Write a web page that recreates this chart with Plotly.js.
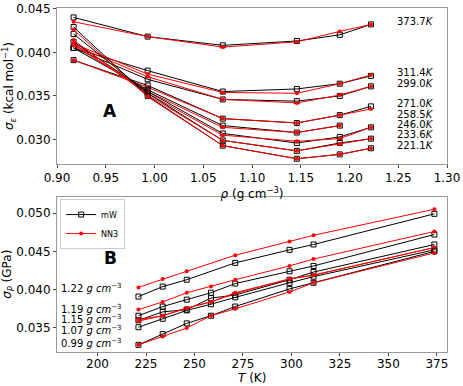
<!DOCTYPE html>
<html>
<head>
<meta charset="utf-8">
<script src="https://cdn.plot.ly/plotly-3.0.1.min.js"></script>
<style>
  html, body { margin: 0; padding: 0; background: #fff; }
  #chart { width: 463px; height: 386px; }
</style>
</head>
<body>
<div id="chart"></div>
<script>
// Panel A: sigma_eps vs density, one curve per temperature
const rho = [0.917, 0.993, 1.07, 1.146, 1.19, 1.222];
const tempLabels = ['373.7', '311.4', '299.0', '271.0', '258.5', '246.0', '233.6', '221.1'];
const tempLabelY = [0.04359, 0.03766, 0.03644, 0.03415, 0.03292, 0.03174, 0.03055, 0.02937];

const sigEpsMW = [
    [0.0440, 0.0418, 0.0408, 0.0413, 0.0420, 0.0432],
    [0.0405, 0.0379, 0.0355, 0.0358, 0.0364, 0.0373],
    [0.0405, 0.0369, 0.0346, 0.0344, 0.0350, 0.0361],
    [0.0391, 0.0362, 0.0324, 0.0319, 0.0328, 0.0338],
    [0.0405, 0.0357, 0.0316, 0.0308, 0.0316, null],
    [0.0412, 0.0355, 0.0307, 0.0296, 0.0303, 0.0314],
    [0.0421, 0.0353, 0.0299, 0.0287, 0.0296, 0.0301],
    [0.0429, 0.0350, 0.0293, 0.0278, 0.0283, 0.0290]
];
const sigEpsNN3 = [
    [0.0435, 0.0418, 0.0406, 0.0412, 0.0424, 0.0432],
    [0.0410, 0.0375, 0.0354, 0.0353, 0.0364, 0.0374],
    [0.0408, 0.0372, 0.0346, 0.0342, 0.0351, 0.0361],
    [0.0391, 0.0360, 0.0324, 0.0319, 0.0328, 0.0335],
    [0.0408, 0.0355, 0.0314, 0.0308, 0.0316, null],
    [0.0410, 0.0353, 0.0305, 0.0298, 0.0301, 0.0314],
    [0.0414, 0.0351, 0.0299, 0.0287, 0.0295, 0.0301],
    [0.0426, 0.0349, 0.0293, 0.0278, 0.0283, 0.0290]
];

// Panel B: sigma_P vs temperature, one curve per density
const temps = [221.1, 233.6, 246.0, 258.5, 271.0, 299.0, 311.4, 373.7];
const densLabels = ['1.22', '1.19', '1.15', '1.07', '0.99'];
const densLabelY = [0.04027, 0.03748, 0.03616, 0.03471, 0.03299];

const sigPMW = [
    [0.0391, 0.0404, 0.0413, null, 0.0435, 0.0452, 0.0459, 0.0499],
    [0.0366, 0.0378, 0.0387, 0.0396, 0.0408, 0.0424, 0.0431, 0.0472],
    [0.0360, 0.0371, 0.0374, 0.0389, 0.0393, 0.0413, 0.0423, 0.0459],
    [0.0351, 0.0362, 0.0373, 0.0381, 0.0390, 0.0409, 0.0417, 0.0452],
    [0.0328, 0.0342, 0.0356, 0.0366, 0.0378, 0.0401, 0.0409, 0.0450]
];
const sigPNN3 = [
    [0.0403, 0.0414, 0.0424, null, 0.0445, 0.0463, 0.0471, 0.0505],
    [0.0374, 0.0384, 0.0396, 0.0404, 0.0413, 0.0431, 0.0440, 0.0476],
    [0.0361, 0.0366, 0.0376, 0.0384, 0.0395, 0.0414, 0.0419, 0.0455],
    [0.0359, 0.0366, 0.0376, 0.0384, 0.0396, 0.0414, 0.0419, 0.0455],
    [0.0328, 0.0339, 0.0350, 0.0366, 0.0375, 0.0397, 0.0409, 0.0448]
];

const mwStyle = {
    mode: 'lines+markers',
    line: { color: 'black', width: 1 },
    marker: { symbol: 'square-open', size: 5, color: 'black', line: { width: 1 } },
    legendgroup: 'mW', name: 'mW'
};
const nnStyle = {
    mode: 'lines+markers',
    line: { color: 'red', width: 1 },
    marker: { symbol: 'circle', size: 4, color: 'red' },
    legendgroup: 'NN3', name: 'NN3'
};

const traces = [];
sigEpsMW.forEach((ys, i) => {
    traces.push({ ...mwStyle, x: rho, y: ys, xaxis: 'x', yaxis: 'y', showlegend: false });
    traces.push({ ...nnStyle, x: rho, y: sigEpsNN3[i], xaxis: 'x', yaxis: 'y', showlegend: false });
});
sigPMW.forEach((ys, i) => {
    traces.push({ ...mwStyle, x: temps, y: ys, xaxis: 'x2', yaxis: 'y2', connectgaps: true, showlegend: i === 0 });
    traces.push({ ...nnStyle, x: temps, y: sigPNN3[i], xaxis: 'x2', yaxis: 'y2', connectgaps: true, showlegend: i === 0 });
});

const font = { family: 'DejaVu Sans, sans-serif', size: 12, color: 'black' };

function axisBase() {
    return {
        showgrid: false, zeroline: false,
        showline: true, mirror: true, linecolor: '#999', linewidth: 1,
        ticks: 'outside', ticklen: 3, tickcolor: '#444',
        tickfont: { size: 12 }
    };
}

const annotations = [];
tempLabels.forEach((t, i) => {
    annotations.push({
        xref: 'x', yref: 'y', x: 1.247, y: tempLabelY[i], xanchor: 'left',
        text: t + '<i>K</i>', showarrow: false, font: { size: 10 }
    });
});
densLabels.forEach((d, i) => {
    annotations.push({
        xref: 'x2', yref: 'y2', x: 180.3, y: densLabelY[i], xanchor: 'left',
        text: d + ' <i>g cm</i><sup>−3</sup>', showarrow: false, font: { size: 10 }
    });
});
annotations.push({ xref: 'x', yref: 'y', x: 0.9544, y: 0.03327, text: '<b>A</b>', showarrow: false, font: { size: 17 } });
annotations.push({ xref: 'x2', yref: 'y2', x: 206.6, y: 0.04409, text: '<b>B</b>', showarrow: false, font: { size: 17 } });
// bottom x-axis title placed by hand, the axis title collides with the tick labels
annotations.push({
    xref: 'paper', yref: 'paper', x: 0.5, y: -0.0925, yanchor: 'bottom', borderpad: 0,
    text: '<i>T</i> (K)', showarrow: false, font: { size: 12 }
});

const layout = {
    width: 463, height: 386,
    margin: { l: 57, r: 16, t: 8, b: 32 },
    paper_bgcolor: 'white', plot_bgcolor: 'white',
    font: font,
    xaxis: {
        ...axisBase(), domain: [0, 1], anchor: 'y',
        range: [0.90, 1.30], tickvals: [0.90, 0.95, 1.00, 1.05, 1.10, 1.15, 1.20, 1.25, 1.30],
        tickformat: '.2f',
        title: { text: '<i>ρ</i> (g cm<sup>−3</sup>)', font: { size: 12 }, standoff: 0 }
    },
    yaxis: {
        ...axisBase(), domain: [0.549, 1], anchor: 'x',
        range: [0.02719, 0.04508], tickvals: [0.030, 0.035, 0.040, 0.045], tickformat: '.3f',
        title: { text: '<i>σ</i><sub><i>ε</i></sub> (kcal mol<sup>−1</sup>)', font: { size: 12 }, standoff: 4 }
    },
    xaxis2: {
        ...axisBase(), domain: [0, 1], anchor: 'y2', ticklabelstandoff: -2,
        range: [179.1, 380.2], tickvals: [200, 225, 250, 275, 300, 325, 350, 375]
    },
    yaxis2: {
        ...axisBase(), domain: [0.007, 0.4538], anchor: 'x2',
        range: [0.03192, 0.0521], tickvals: [0.035, 0.040, 0.045, 0.050], tickformat: '.3f',
        title: { text: '<i>σ</i><sub><i>P</i></sub> (GPa)', font: { size: 12 }, standoff: 4 }
    },
    showlegend: true,
    legend: {
        x: 0.008, y: 0.4538 - 0.006, xanchor: 'left', yanchor: 'top',
        bgcolor: 'white', bordercolor: '#ccc', borderwidth: 1,
        font: { size: 8 }, itemwidth: 30, tracegroupgap: 0
    },
    annotations: annotations
};

Plotly.newPlot('chart', traces, layout, { displayModeBar: false, staticPlot: true });
</script>
</body>
</html>
